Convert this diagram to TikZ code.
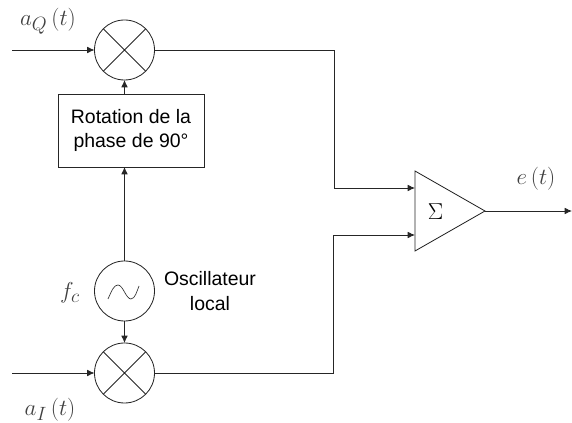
\documentclass[tikz,border=0pt]{standalone}
\usepackage{amsmath}
\usepackage{fontspec}
\setsansfont{Liberation Sans}
\usetikzlibrary{arrows.meta}
\begin{document}
\begin{tikzpicture}[x=0.75pt,y=-0.75pt,
  wire/.style={draw=black!85,line width=0.62pt},
  arrowwire/.style={wire,-{Latex[length=5.5pt,width=5pt]}},
  roundblock/.style={circle,draw=black!85,line width=0.62pt,minimum size=45pt,inner sep=0pt,outer sep=0pt},
  boxblock/.style={rectangle,draw=black!85,line width=0.62pt,minimum width=109.5pt,minimum height=54.75pt,inner sep=0pt,outer sep=0pt,align=center,font=\sffamily\fontsize{14.6}{18}\selectfont},
  plain/.style={inner sep=0pt,outer sep=0pt,align=center},
  sans/.style={plain,font=\sffamily\fontsize{14.6}{18.5}\selectfont},
  maths/.style={plain,font=\fontsize{19}{22}\selectfont,text=black!75}]
\useasboundingbox (0,0) rectangle (572,423);
\node[roundblock] (mq) at (124.5,50) {};
\node[roundblock] (mi) at (124.5,373) {};
\node[roundblock] (osc) at (124.5,291) {};
\node[boxblock] (rot) at (131,130.5) {Rotation de la\\phase de 90°};
\draw[line width=0.55pt,draw=black!85] (mq.45)--(mq.225) (mq.135)--(mq.315);
\draw[line width=0.62pt,draw=black!85] (mi.45)--(mi.225) (mi.135)--(mi.315);
\draw[line width=0.5pt,draw=black!80] (108,299) .. controls (112,290) and (114,285) .. (118,285)
  .. controls (123,285) and (126,299) .. (131,299) .. controls (135,299) and (137,291) .. (139,286);
% summer
\coordinate (ta) at (415,171);
\coordinate (tb) at (415,251);
\coordinate (tc) at (485,211);
\draw[wire,line join=miter] (ta)--(tc)--(tb)--cycle;
\node[plain,font=\fontsize{19}{22}\selectfont] (sig) at (435.5,212) {$\Sigma$};
% free ends and terminals
\coordinate (inq) at (12,50);
\coordinate (ini) at (12,373);
\coordinate (outq) at (415,188);
\coordinate (outi) at (415,235);
\coordinate (oute) at (572,211);
\draw[arrowwire] (inq)--(mq.west);
\draw[arrowwire] (ini)--(mi.west);
\draw[arrowwire] (rot.north-|mq)--(mq.south);
\draw[arrowwire] (osc.north)--(rot.south-|osc);
\draw[arrowwire] (osc.south)--(mi.north);
\draw[arrowwire] (mq.east)-|(334,188)--(outq);
\draw[arrowwire] (mi.east)-|(333,235)--(outi);
\draw[arrowwire] (tc)--(oute);
% labels
\node[maths] (lq) at (48,21) {$a_Q\,(t)$};
\node[maths] (li) at (50,410) {$a_I\,(t)$};
\node[maths] (lf) at (70,293) {$f_c$};
\node[maths] (le) at (536,179) {$e\,(t)$};
\node[sans] (lo) at (210,291) {Oscillateur\\local};
\end{tikzpicture}
\end{document}
